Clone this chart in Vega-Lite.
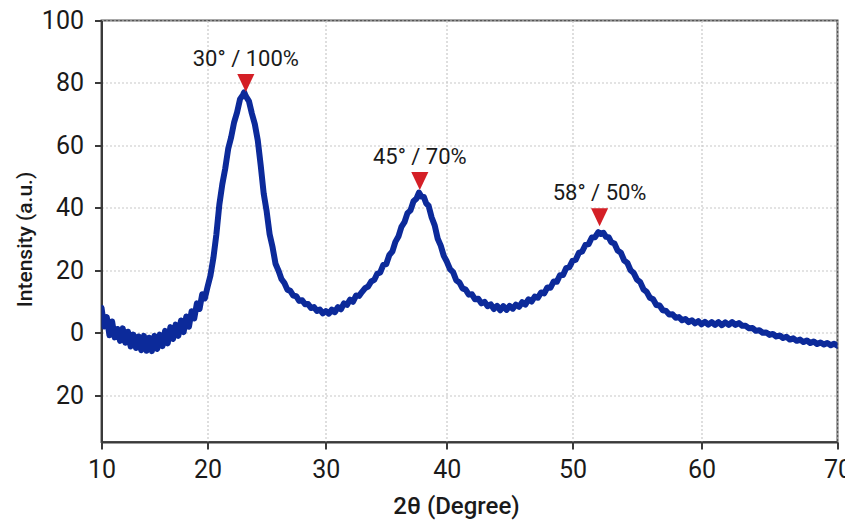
{
  "$schema": "https://vega.github.io/schema/vega-lite/v6.json",
  "width": 736,
  "height": 421.5,
  "autosize": {"type": "none"},
  "padding": {"left": 101.5, "top": 20.5, "right": 7.5, "bottom": 78},
  "background": "white",
  "config": {
    "view": {"stroke": "#555555", "strokeWidth": 2},
    "font": "Roboto, sans-serif",
    "axis": {
      "labelFont": "Roboto, sans-serif",
      "titleFont": "Roboto, sans-serif",
      "labelColor": "#1a1a1a",
      "titleColor": "#1a1a1a",
      "labelFontSize": 25,
      "titleFontSize": 25,
      "titleFontWeight": 500,
      "domainColor": "#3a3a3a",
      "domainWidth": 2,
      "tickColor": "#3a3a3a",
      "tickWidth": 2,
      "tickSize": 7,
      "gridColor": "#c8c8c8",
      "gridDash": [2, 2],
      "gridWidth": 1.2,
      "labelFlush": false
    }
  },
  "datasets": {
    "xrd": [
      {"t":10.00,"i":8.0},{"t":10.25,"i":2.0},{"t":10.50,"i":5.0},{"t":10.75,"i":-0.8},{"t":11.00,"i":3.6},{"t":11.25,"i":-1.5},{"t":11.50,"i":1.2},{"t":11.75,"i":-2.6},
      {"t":12.00,"i":1.4},{"t":12.25,"i":-3.2},{"t":12.50,"i":0.3},{"t":12.75,"i":-4.4},{"t":13.00,"i":-0.6},{"t":13.25,"i":-4.9},{"t":13.50,"i":-1.2},{"t":13.75,"i":-5.6},
      {"t":14.00,"i":-1.0},{"t":14.25,"i":-5.8},{"t":14.50,"i":-1.6},{"t":14.75,"i":-5.9},{"t":15.00,"i":-1.0},{"t":15.25,"i":-5.2},{"t":15.50,"i":-0.6},{"t":15.75,"i":-4.3},
      {"t":16.00,"i":0.6},{"t":16.25,"i":-3.4},{"t":16.50,"i":1.8},{"t":16.75,"i":-2.0},{"t":17.00,"i":2.6},{"t":17.25,"i":-1.0},{"t":17.50,"i":3.9},{"t":17.75,"i":0.2},
      {"t":18.00,"i":5.2},{"t":18.25,"i":1.9},{"t":18.50,"i":6.9},{"t":18.75,"i":4.6},{"t":19.00,"i":9.4},{"t":19.25,"i":7.6},{"t":19.50,"i":12.3},{"t":19.75,"i":11.0},
      {"t":20.00,"i":14.6},{"t":20.25,"i":18.3},{"t":20.50,"i":24.0},{"t":20.75,"i":31.5},{"t":21.00,"i":41.0},{"t":21.25,"i":47.5},{"t":21.50,"i":52.6},{"t":21.75,"i":58.9},
      {"t":22.00,"i":62.6},{"t":22.25,"i":67.4},{"t":22.50,"i":70.6},{"t":22.75,"i":74.8},{"t":23.00,"i":76.2},{"t":23.10,"i":77.0},{"t":23.25,"i":75.7},{"t":23.50,"i":74.2},
      {"t":23.75,"i":70.2},{"t":24.00,"i":66.8},{"t":24.25,"i":61.6},{"t":24.50,"i":53.5},{"t":24.75,"i":44.6},{"t":25.00,"i":38.9},{"t":25.25,"i":31.6},{"t":25.50,"i":27.4},
      {"t":25.75,"i":22.1},{"t":26.00,"i":19.9},{"t":26.25,"i":17.2},{"t":26.50,"i":15.9},{"t":26.75,"i":13.8},{"t":27.00,"i":13.4},{"t":27.25,"i":11.9},{"t":27.50,"i":11.7},
      {"t":27.75,"i":10.2},{"t":28.00,"i":10.4},{"t":28.25,"i":9.1},{"t":28.50,"i":9.2},{"t":28.75,"i":7.9},{"t":29.00,"i":8.2},{"t":29.25,"i":7.0},{"t":29.50,"i":7.4},
      {"t":29.75,"i":6.2},{"t":30.00,"i":6.9},{"t":30.25,"i":6.1},{"t":30.50,"i":7.4},{"t":30.75,"i":6.6},{"t":31.00,"i":8.2},{"t":31.25,"i":7.5},{"t":31.50,"i":9.4},
      {"t":31.75,"i":8.9},{"t":32.00,"i":10.6},{"t":32.25,"i":9.9},{"t":32.50,"i":11.9},{"t":32.75,"i":11.8},{"t":33.00,"i":13.1},{"t":33.25,"i":14.3},{"t":33.50,"i":14.8},
      {"t":33.75,"i":16.4},{"t":34.00,"i":16.9},{"t":34.25,"i":18.9},{"t":34.50,"i":19.3},{"t":34.75,"i":21.7},{"t":35.00,"i":22.0},{"t":35.25,"i":24.9},{"t":35.50,"i":26.0},
      {"t":35.75,"i":29.1},{"t":36.00,"i":30.8},{"t":36.25,"i":33.9},{"t":36.50,"i":35.4},{"t":36.75,"i":38.3},{"t":37.00,"i":39.2},{"t":37.25,"i":42.1},{"t":37.50,"i":43.0},
      {"t":37.70,"i":44.9},{"t":37.90,"i":43.6},{"t":38.10,"i":43.5},{"t":38.30,"i":41.4},{"t":38.50,"i":40.6},{"t":38.75,"i":36.9},{"t":39.00,"i":34.4},{"t":39.25,"i":30.1},
      {"t":39.50,"i":27.9},{"t":39.75,"i":24.6},{"t":40.00,"i":22.8},{"t":40.25,"i":20.4},{"t":40.50,"i":19.4},{"t":40.75,"i":16.8},{"t":41.00,"i":16.1},{"t":41.25,"i":14.2},
      {"t":41.50,"i":13.8},{"t":41.75,"i":12.2},{"t":42.00,"i":12.3},{"t":42.25,"i":10.7},{"t":42.50,"i":10.9},{"t":42.75,"i":9.4},{"t":43.00,"i":9.9},{"t":43.25,"i":8.5},
      {"t":43.50,"i":9.1},{"t":43.75,"i":7.6},{"t":44.00,"i":8.6},{"t":44.25,"i":7.2},{"t":44.50,"i":8.5},{"t":44.75,"i":7.3},{"t":45.00,"i":8.6},{"t":45.25,"i":7.7},
      {"t":45.50,"i":9.0},{"t":45.75,"i":8.3},{"t":46.00,"i":9.8},{"t":46.25,"i":9.0},{"t":46.50,"i":10.7},{"t":46.75,"i":10.0},{"t":47.00,"i":11.6},{"t":47.25,"i":11.2},
      {"t":47.50,"i":12.9},{"t":47.75,"i":12.6},{"t":48.00,"i":14.5},{"t":48.25,"i":14.4},{"t":48.50,"i":16.4},{"t":48.75,"i":16.3},{"t":49.00,"i":18.4},{"t":49.25,"i":18.5},
      {"t":49.50,"i":20.7},{"t":49.75,"i":21.0},{"t":50.00,"i":23.0},{"t":50.25,"i":23.4},{"t":50.50,"i":25.6},{"t":50.75,"i":26.0},{"t":51.00,"i":28.1},{"t":51.25,"i":28.4},
      {"t":51.50,"i":30.5},{"t":51.75,"i":30.6},{"t":52.00,"i":32.2},{"t":52.20,"i":31.6},{"t":52.40,"i":32.0},{"t":52.60,"i":30.7},{"t":52.80,"i":30.6},{"t":53.00,"i":29.0},
      {"t":53.25,"i":28.6},{"t":53.50,"i":26.3},{"t":53.75,"i":25.6},{"t":54.00,"i":23.2},{"t":54.25,"i":22.4},{"t":54.50,"i":20.0},{"t":54.75,"i":19.1},{"t":55.00,"i":17.0},
      {"t":55.25,"i":16.2},{"t":55.50,"i":13.9},{"t":55.75,"i":13.1},{"t":56.00,"i":11.2},{"t":56.25,"i":10.7},{"t":56.50,"i":8.9},{"t":56.75,"i":8.7},{"t":57.00,"i":7.2},
      {"t":57.25,"i":7.0},{"t":57.50,"i":5.8},{"t":57.75,"i":5.9},{"t":58.00,"i":4.8},{"t":58.25,"i":5.0},{"t":58.50,"i":4.0},{"t":58.75,"i":4.4},{"t":59.00,"i":3.4},
      {"t":59.25,"i":4.0},{"t":59.50,"i":3.0},{"t":59.75,"i":3.7},{"t":60.00,"i":2.7},{"t":60.25,"i":3.5},{"t":60.50,"i":2.6},{"t":60.75,"i":3.4},{"t":61.00,"i":2.5},
      {"t":61.25,"i":3.4},{"t":61.50,"i":2.4},{"t":61.75,"i":3.3},{"t":62.00,"i":2.5},{"t":62.25,"i":3.4},{"t":62.50,"i":2.5},{"t":62.75,"i":3.1},{"t":63.00,"i":2.2},
      {"t":63.25,"i":2.2},{"t":63.50,"i":1.4},{"t":63.75,"i":1.5},{"t":64.00,"i":0.6},{"t":64.25,"i":0.8},{"t":64.50,"i":0.0},{"t":64.75,"i":0.1},{"t":65.00,"i":-0.7},
      {"t":65.25,"i":-0.4},{"t":65.50,"i":-1.2},{"t":65.75,"i":-0.9},{"t":66.00,"i":-1.7},{"t":66.25,"i":-1.3},{"t":66.50,"i":-2.2},{"t":66.75,"i":-1.8},{"t":67.00,"i":-2.6},
      {"t":67.25,"i":-2.2},{"t":67.50,"i":-3.0},{"t":67.75,"i":-2.5},{"t":68.00,"i":-3.3},{"t":68.25,"i":-2.8},{"t":68.50,"i":-3.6},{"t":68.75,"i":-3.1},{"t":69.00,"i":-3.8},
      {"t":69.25,"i":-3.3},{"t":69.50,"i":-4.0},{"t":69.75,"i":-3.5},{"t":70.00,"i":-4.2}
    ],
    "peaks": [
      {"t":23.24,"i":80.0,"label":"30° / 100%"},
      {"t":37.77,"i":48.6,"label":"45° / 70%"},
      {"t":52.1,"i":37.0,"label":"58° / 50%"}
    ]
  },
  "encoding": {
    "x": {
      "field": "t",
      "type": "quantitative",
      "scale": {"domain": [10, 20, 30, 40, 50, 60, 70], "range": [0, 106, 224.3, 345.3, 471, 600, 736], "nice": false, "zero": false},
      "axis": {
        "values": [10, 20, 30, 40, 50, 60, 70],
        "title": "2θ (Degree)",
        "labelPadding": 8,
        "titleFontSize": 24,
        "titleX": 354.5,
        "titleY": 71,
        "titleAlign": "center",
        "titleBaseline": "alphabetic"
      }
    },
    "y": {
      "field": "i",
      "type": "quantitative",
      "scale": {"domain": [-35, 100], "nice": false, "zero": false},
      "axis": {
        "values": [-20, 0, 20, 40, 60, 80, 100],
        "labelExpr": "abs(datum.value)",
        "title": "Intensity (a.u.)",
        "titleFontSize": 21,
        "labelPadding": 11,
        "titleX": -70,
        "titleY": 218.5,
        "titleAlign": "center",
        "titleBaseline": "alphabetic"
      }
    }
  },
  "layer": [
    {
      "data": {"name": "xrd"},
      "mark": {"type": "line", "color": "#0c2a9a", "strokeWidth": 6, "strokeJoin": "round", "strokeCap": "round", "clip": true}
    },
    {
      "data": {"name": "peaks"},
      "mark": {"type": "point", "shape": "M-0.95,-1L0.95,-1L0,1Z", "size": 324, "filled": true, "color": "#d41f26", "opacity": 1}
    },
    {
      "data": {"name": "peaks"},
      "mark": {"type": "text", "fontSize": 22, "dy": -17, "baseline": "alphabetic", "align": "center", "color": "#1a1a1a"},
      "encoding": {"text": {"field": "label"}}
    }
  ]
}
